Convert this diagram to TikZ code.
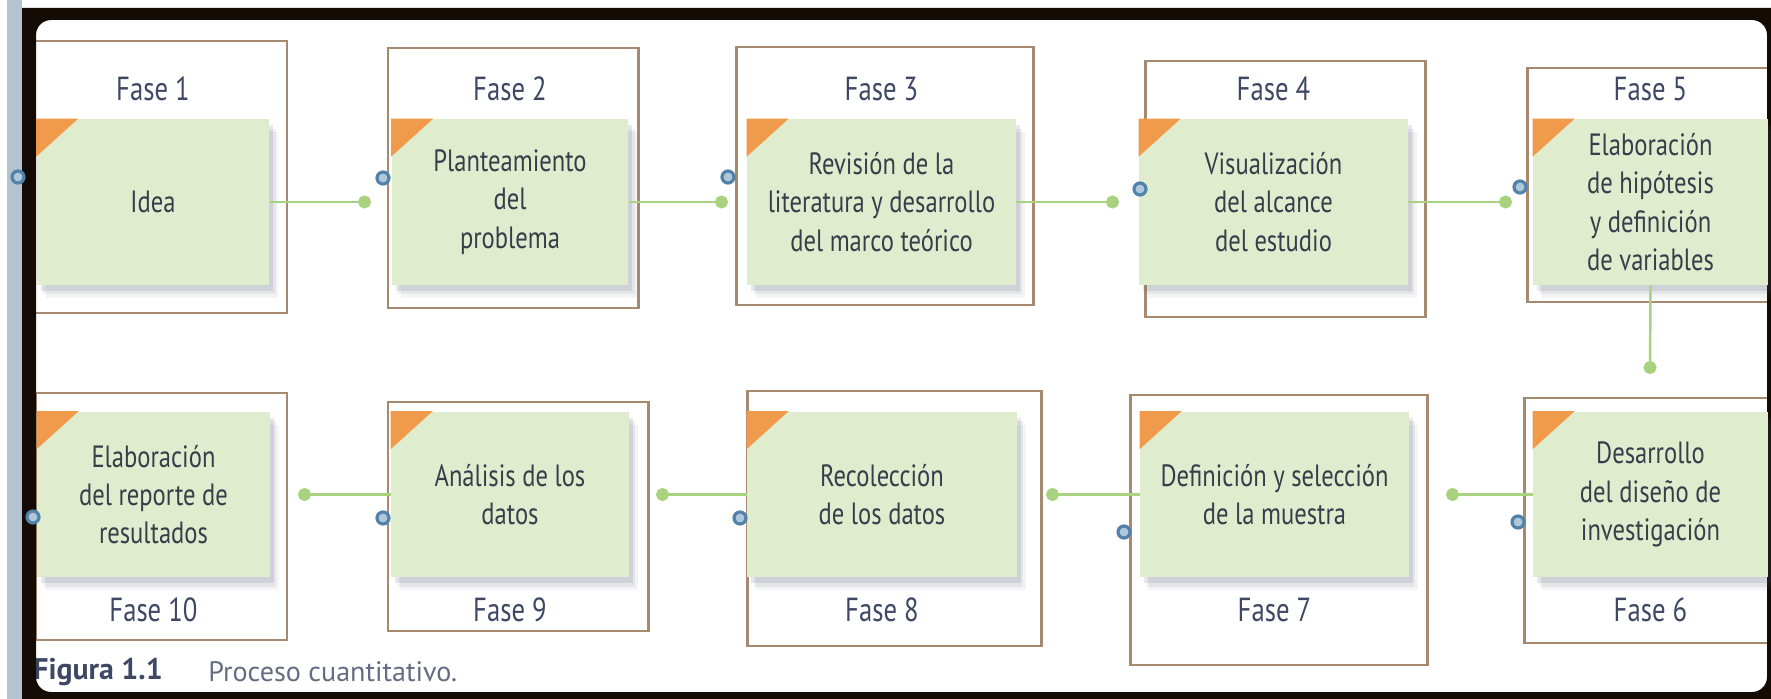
\documentclass[tikz,border=0pt]{standalone}
\usepackage{fontspec}
\setmainfont{PT Sans}
\newfontfamily\narrowfont[FakeStretch=0.8]{PT Sans}
\usetikzlibrary{arrows.meta, positioning, calc}

\definecolor{boxgreen}{RGB}{223,236,206}
\definecolor{cornerorange}{RGB}{240,154,76}
\definecolor{framebrown}{RGB}{166,138,112}
\definecolor{linkgreen}{RGB}{168,210,126}
\definecolor{handleblue}{RGB}{80,130,170}
\definecolor{textgrey}{RGB}{58,60,74}
\definecolor{labelblue}{RGB}{62,72,100}
\definecolor{stripblue}{RGB}{180,195,210}
\definecolor{windowblack}{RGB}{20,12,4}
\definecolor{shadowgrey}{RGB}{70,78,110}

\tikzset{
  stage/.style={fill=boxgreen, align=center, inner sep=0pt, text=textgrey,
    font=\narrowfont\fontsize{17.5}{21.8}\selectfont, minimum height=3.32cm,
    preaction={fill=shadowgrey, fill opacity=0.06, transform canvas={xshift=0.18cm, yshift=-0.26cm}},
    preaction={fill=shadowgrey, fill opacity=0.09, transform canvas={xshift=0.13cm, yshift=-0.19cm}},
    preaction={fill=shadowgrey, fill opacity=0.13, transform canvas={xshift=0.08cm, yshift=-0.12cm}}},
  stageframe/.style={draw=framebrown, line width=1.7pt},
  phaselabel/.style={text=labelblue, font=\narrowfont\fontsize{19}{22}\selectfont},
  link/.style={draw=linkgreen, line width=1.4pt, -{Circle[length=0.26cm]}},
  handle/.style={circle, draw=handleblue, line width=1.8pt, fill=handleblue!45!white,
    minimum size=0.24cm, inner sep=0pt},
  corner/.style={fill=cornerorange}
}

\begin{document}
\begin{tikzpicture}[x=0.02cm, y=-0.02cm]
        % Page and window frame
        \useasboundingbox (0,0) rectangle (1771,699);
        \clip (0,0) rectangle (1771,699);
        \fill [white] (0,0) rectangle (1771,699);
        \fill [stripblue] (7,0) rectangle (22,699);

        % Outer frames of the phases (top row)
        \draw [stageframe] (24,41) rectangle (287,313);
        \draw [stageframe] (388,48) rectangle (638,308);
        \draw [stageframe] (736,47) rectangle (1033,305);
        \draw [stageframe] (1145,61) rectangle (1425,317);
        \draw [stageframe] (1527,68) rectangle (1800,302);

        % Outer frames of the phases (bottom row)
        \draw [stageframe] (36,393) rectangle (287,640);
        \draw [stageframe] (388,402) rectangle (648,631);
        \draw [stageframe] (747,391) rectangle (1041,646);
        \draw [stageframe] (1130,395) rectangle (1427,665);
        \draw [stageframe] (1524,398) rectangle (1800,643);

        % Caption
        \node [anchor=west, inner sep=0pt, text=labelblue, font=\bfseries\fontsize{17}{20}\selectfont] (capnum) at (33,672) {Figura 1.1};
        \node [anchor=west, inner sep=0pt, text=labelblue!80!white, font=\fontsize{16}{19}\selectfont] (captext) at (208,672) {Proceso cuantitativo.};

        \fill [windowblack, even odd rule] (22,8) rectangle (1790,720)
              [rounded corners=0.3cm] (36,20) rectangle (1767,692);

        % Phase contents (top row)
        \node [stage, minimum width=4.66cm] (f1) at (153,202) {Idea};
        \node [stage, minimum width=4.74cm] (f2) at (510,202) {Planteamiento\\del\\problema};
        \node [stage, minimum width=5.38cm] (f3) at (881.5,202) {Revisión de la\\literatura y desarrollo\\del marco teórico};
        \node [stage, minimum width=5.38cm] (f4) at (1273.5,202) {Visualización\\del alcance\\del estudio};
        \node [stage, minimum width=4.70cm] (f5) at (1650.5,202) {Elaboración\\de hipótesis\\y definición\\de variables};

        % Phase contents (bottom row)
        \node [stage, minimum width=4.70cm] (f6) at (1650.5,494.5) {Desarrollo\\del diseño de\\investigación};
        \node [stage, minimum width=5.38cm] (f7) at (1274.5,494.5) {Definición y selección\\de la muestra};
        \node [stage, minimum width=5.40cm] (f8) at (882,494.5) {Recolección\\de los datos};
        \node [stage, minimum width=4.76cm] (f9) at (510,494.5) {Análisis de los\\datos};
        \node [stage, minimum width=4.66cm] (f10) at (153.5,494.5) {Elaboración\\del reporte de\\resultados};

        % Orange corner marks
        \fill [corner] (f1.north west) -- ++(42,0) -- ++(-42,38) -- cycle;
        \fill [corner] (f2.north west) -- ++(42,0) -- ++(-42,38) -- cycle;
        \fill [corner] (f3.north west) -- ++(42,0) -- ++(-42,38) -- cycle;
        \fill [corner] (f4.north west) -- ++(42,0) -- ++(-42,38) -- cycle;
        \fill [corner] (f5.north west) -- ++(42,0) -- ++(-42,38) -- cycle;
        \fill [corner] (f6.north west) -- ++(42,0) -- ++(-42,38) -- cycle;
        \fill [corner] (f7.north west) -- ++(42,0) -- ++(-42,38) -- cycle;
        \fill [corner] (f8.north west) -- ++(42,0) -- ++(-42,38) -- cycle;
        \fill [corner] (f9.north west) -- ++(42,0) -- ++(-42,38) -- cycle;
        \fill [corner] (f10.north west) -- ++(42,0) -- ++(-42,38) -- cycle;

        % Connector ends
        \coordinate (d1) at (371,202);
        \coordinate (d2) at (728,202);
        \coordinate (d3) at (1119,202);
        \coordinate (d4) at (1512,202);
        \coordinate (d5) at (1650,374);
        \coordinate (d6) at (1446,494.5);
        \coordinate (d7) at (1046,494.5);
        \coordinate (d8) at (656,494.5);
        \coordinate (d9) at (298,494.5);

        \draw [link] (f1.east) -- (d1);
        \draw [link] (f2.east) -- (d2);
        \draw [link] (f3.east) -- (d3);
        \draw [link] (f4.east) -- (d4);
        \draw [link] (f5.south) -- (d5);
        \draw [link] (f6.west) -- (d6);
        \draw [link] (f7.west) -- (d7);
        \draw [link] (f8.west) -- (d8);
        \draw [link] (f9.west) -- (d9);

        % Small blue handles
        \node [handle] (h1) at (18,177) {};
        \node [handle] (h2) at (383,178) {};
        \node [handle] (h3) at (728,177) {};
        \node [handle] (h4) at (1140,189) {};
        \node [handle] (h5) at (1520,187) {};
        \node [handle] (h6) at (1518,522) {};
        \node [handle] (h7) at (1124,532) {};
        \node [handle] (h8) at (740,518) {};
        \node [handle] (h9) at (383,518) {};
        \node [handle] (h10) at (33,517) {};

        % Phase labels
        \node [phaselabel] (l1) at (153,89) {Fase 1};
        \node [phaselabel] (l2) at (510,89) {Fase 2};
        \node [phaselabel] (l3) at (881.5,89) {Fase 3};
        \node [phaselabel] (l4) at (1273.5,89) {Fase 4};
        \node [phaselabel] (l5) at (1650.5,89) {Fase 5};
        \node [phaselabel] (l6) at (1650.5,610) {Fase 6};
        \node [phaselabel] (l7) at (1274.5,610) {Fase 7};
        \node [phaselabel] (l8) at (882,610) {Fase 8};
        \node [phaselabel] (l9) at (510,610) {Fase 9};
        \node [phaselabel] (l10) at (153.5,610) {Fase 10};
    \end{tikzpicture}
\end{document}
